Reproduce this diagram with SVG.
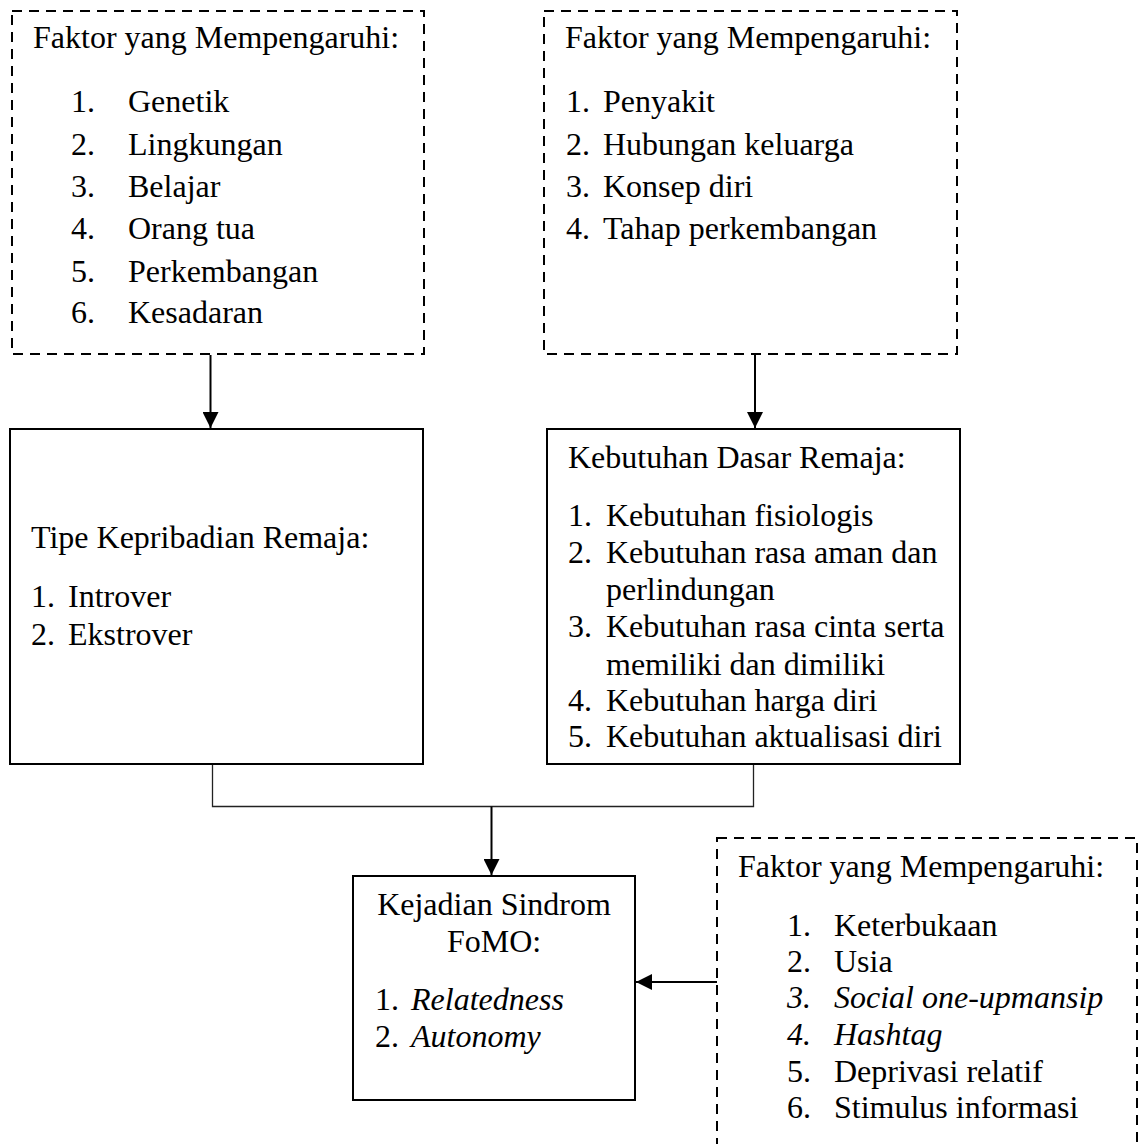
<svg xmlns="http://www.w3.org/2000/svg" width="1139" height="1144" viewBox="0 0 1139 1144">
  <defs>
    <style>
      .t{font-family:"Liberation Serif","Times New Roman",serif;font-size:32px;fill:#000}
      .i{font-style:italic}
      .c{text-anchor:middle}
      .dash{fill:none;stroke:#000;stroke-width:2;stroke-dasharray:10 7}
      .box{fill:none;stroke:#000;stroke-width:2}
      .wire{fill:none;stroke:#222;stroke-width:1.3}
      .arrow{fill:none;stroke:#000;stroke-width:2;marker-end:url(#head)}
    </style>
    <marker id="head" markerUnits="userSpaceOnUse" markerWidth="16" markerHeight="16" viewBox="0 0 16 16" refX="16" refY="8" orient="auto">
      <path d="M0,0 L16,8 L0,16 z" fill="#000"/>
    </marker>
  </defs>
  <rect width="1139" height="1144" fill="#fff"/>

  <!-- factors influencing personality -->
  <g id="faktor-kepribadian">
    <rect class="dash" x="12" y="11" width="412" height="343"/>
    <text class="t" x="33" y="48">Faktor yang Mempengaruhi:</text>
    <text class="t"><tspan x="71" y="112">1.</tspan><tspan x="128" y="112">Genetik</tspan></text>
    <text class="t"><tspan x="71" y="155">2.</tspan><tspan x="128" y="155">Lingkungan</tspan></text>
    <text class="t"><tspan x="71" y="197">3.</tspan><tspan x="128" y="197">Belajar</tspan></text>
    <text class="t"><tspan x="71" y="239">4.</tspan><tspan x="128" y="239">Orang tua</tspan></text>
    <text class="t"><tspan x="71" y="282">5.</tspan><tspan x="128" y="282">Perkembangan</tspan></text>
    <text class="t"><tspan x="71" y="323">6.</tspan><tspan x="128" y="323">Kesadaran</tspan></text>
  </g>

  <!-- factors influencing basic needs -->
  <g id="faktor-kebutuhan">
    <rect class="dash" x="544" y="11" width="413" height="343"/>
    <text class="t" x="565" y="48">Faktor yang Mempengaruhi:</text>
    <text class="t"><tspan x="566" y="112">1.</tspan><tspan x="603" y="112">Penyakit</tspan></text>
    <text class="t"><tspan x="566" y="155">2.</tspan><tspan x="603" y="155">Hubungan keluarga</tspan></text>
    <text class="t"><tspan x="566" y="197">3.</tspan><tspan x="603" y="197">Konsep diri</tspan></text>
    <text class="t"><tspan x="566" y="239">4.</tspan><tspan x="603" y="239">Tahap perkembangan</tspan></text>
  </g>

  <!-- personality types -->
  <g id="tipe-kepribadian">
    <rect class="box" x="10" y="429" width="413" height="335"/>
    <text class="t" x="31" y="548">Tipe Kepribadian Remaja:</text>
    <text class="t"><tspan x="31" y="607">1.</tspan><tspan x="68" y="607">Introver</tspan></text>
    <text class="t"><tspan x="31" y="645">2.</tspan><tspan x="68" y="645">Ekstrover</tspan></text>
  </g>

  <!-- basic needs -->
  <g id="kebutuhan-dasar">
    <rect class="box" x="547" y="429" width="413" height="335"/>
    <text class="t" x="568" y="468">Kebutuhan Dasar Remaja:</text>
    <text class="t"><tspan x="568" y="526">1.</tspan><tspan x="606" y="526">Kebutuhan fisiologis</tspan></text>
    <text class="t"><tspan x="568" y="563">2.</tspan><tspan x="606" y="563">Kebutuhan rasa aman dan</tspan></text>
    <text class="t" x="606" y="600">perlindungan</text>
    <text class="t"><tspan x="568" y="637">3.</tspan><tspan x="606" y="637">Kebutuhan rasa cinta serta</tspan></text>
    <text class="t" x="606" y="675">memiliki dan dimiliki</text>
    <text class="t"><tspan x="568" y="711">4.</tspan><tspan x="606" y="711">Kebutuhan harga diri</tspan></text>
    <text class="t"><tspan x="568" y="747">5.</tspan><tspan x="606" y="747">Kebutuhan aktualisasi diri</tspan></text>
  </g>

  <!-- FoMO syndrome -->
  <g id="sindrom-fomo">
    <rect class="box" x="353" y="876" width="282" height="224"/>
    <text class="t c" x="494" y="915">Kejadian Sindrom</text>
    <text class="t c" x="494" y="952">FoMO:</text>
    <text class="t"><tspan x="375" y="1010">1.</tspan><tspan class="i" x="411" y="1010">Relatedness</tspan></text>
    <text class="t"><tspan x="375" y="1047">2.</tspan><tspan class="i" x="411" y="1047">Autonomy</tspan></text>
  </g>

  <!-- factors influencing FoMO -->
  <g id="faktor-fomo">
    <rect class="dash" x="717" y="838" width="420" height="330"/>
    <text class="t" x="738" y="877">Faktor yang Mempengaruhi:</text>
    <text class="t"><tspan x="787" y="936">1.</tspan><tspan x="834" y="936">Keterbukaan</tspan></text>
    <text class="t"><tspan x="787" y="972">2.</tspan><tspan x="834" y="972">Usia</tspan></text>
    <text class="t i"><tspan x="787" y="1008">3.</tspan><tspan x="834" y="1008">Social one-upmansip</tspan></text>
    <text class="t i"><tspan x="787" y="1045">4.</tspan><tspan x="834" y="1045">Hashtag</tspan></text>
    <text class="t"><tspan x="787" y="1082">5.</tspan><tspan x="834" y="1082">Deprivasi relatif</tspan></text>
    <text class="t"><tspan x="787" y="1118">6.</tspan><tspan x="834" y="1118">Stimulus informasi</tspan></text>
  </g>

  <!-- connectors -->
  <g id="connectors">
    <line class="arrow" x1="210.5" y1="355" x2="210.5" y2="428"/>
    <line class="arrow" x1="755" y1="355" x2="755" y2="428"/>
    <polyline class="wire" points="212.5,765 212.5,806.5 753.5,806.5 753.5,765"/>
    <line class="arrow" x1="491.5" y1="806.5" x2="491.5" y2="875"/>
    <line class="arrow" x1="717" y1="982" x2="636" y2="982"/>
  </g>
</svg>
